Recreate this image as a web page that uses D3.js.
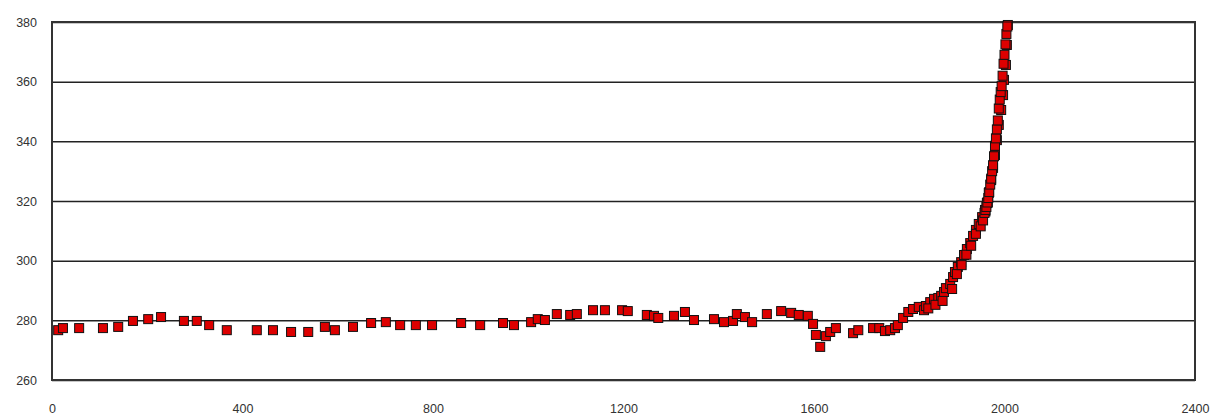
<!DOCTYPE html>
<html lang="en">
<head>
  <meta charset="UTF-8">
  <title>CO2 scatter</title>
  <script src="https://d3js.org/d3.v7.min.js"></script>
  <style>
    body {
      margin: 0;
      background: #fff;
    }
    .tick text {
      font-family: "Liberation Sans", Arial, sans-serif;
      font-size: 12.5px;
      fill: #333;
    }
    .grid line {
      stroke: #222;
      stroke-width: 1.5px;
    }
    .frame {
      fill: none;
      stroke: #333;
      stroke-width: 2px;
    }
    .pt {
      fill: #dd0000;
      stroke: #111;
      stroke-width: 1px;
    }
  </style>
</head>
<body>
  <div id="chart"></div>

  <script>
    // values (year, ppm)
    const years = [
      13, 23, 57, 107, 139, 170, 202, 229, 277, 304, 330, 367, 430, 464, 502, 538,
      573, 594, 632, 670, 701, 731, 764, 798, 859, 899, 947, 970, 1006, 1020, 1035,
      1060, 1088, 1102, 1136, 1161, 1197, 1209, 1249, 1264, 1273, 1306, 1329, 1348,
      1390, 1411, 1430, 1438, 1455, 1470, 1501, 1531, 1552, 1568, 1587, 1598, 1604,
      1613, 1625, 1634, 1646, 1682, 1693, 1724, 1737, 1749, 1760, 1770, 1776, 1787,
      1798, 1808, 1820, 1831, 1835, 1844, 1852, 1861, 1867, 1873, 1877, 1886, 1892,
      1896, 1902, 1909, 1915, 1921, 1928, 1934, 1940, 1946, 1953, 1959, 1963, 1967,
      1972, 1976, 1980, 1984, 1988, 1993, 1997, 1999, 2003, 2005, 2007,
      1840, 1855, 1870, 1890, 1900, 1910, 1920, 1930, 1940, 1950, 1955, 1960, 1965,
      1958, 1960, 1962, 1964, 1966, 1968, 1970, 1972, 1974, 1976, 1978, 1980, 1982,
      1984, 1986, 1988, 1990, 1992, 1994, 1996, 1998, 2000, 2002, 2004, 2006
    ];
    const ppm = [
      276.7, 277.4, 277.4, 277.4, 277.8, 279.8, 280.4, 281.1, 279.8, 279.8, 278.4,
      276.7, 276.7, 276.7, 276.1, 276.1, 277.8, 276.7, 277.8, 279.1, 279.4, 278.4,
      278.4, 278.4, 279.1, 278.4, 279.1, 278.4, 279.4, 280.4, 280.1, 282.1, 281.8,
      282.1, 283.4, 283.4, 283.4, 283.1, 281.8, 281.5, 280.8, 281.5, 282.8, 280.1,
      280.4, 279.4, 279.8, 282.1, 281.1, 279.4, 282.1, 283.1, 282.5, 281.8, 281.5,
      278.8, 275.1, 271.1, 274.7, 276.1, 277.4, 275.7, 276.7, 277.4, 277.4, 276.4,
      276.7, 277.4, 278.4, 280.8, 282.8, 283.8, 284.5, 283.4, 284.8, 286.1, 287.2,
      287.5, 288.2, 289.5, 290.8, 292.2, 294.5, 296.2, 297.9, 299.5, 301.9, 303.9,
      305.9, 308.3, 310.3, 312.3, 314.6, 317.0, 319.3, 322.7, 327.0, 331.1, 335.4,
      340.4, 345.5, 350.5, 355.5, 360.6, 365.6, 372.3, 379.0,
      284.0, 285.2, 286.5, 290.5, 295.5, 298.5, 302.0, 305.0, 309.0, 311.5, 313.5,
      316.5, 319.5,
      316.0, 317.0, 318.0, 319.5, 321.0, 323.0, 325.5, 327.5, 330.0, 332.0, 335.0,
      338.5, 341.0, 344.0, 347.0, 351.0, 354.0, 356.5, 358.5, 362.0, 366.0, 369.0,
      372.5, 376.0, 378.5
    ];
    const xTicks = [0, 400, 800, 1200, 1600, 2000, 2400];
    const yTicks = [260, 280, 300, 320, 340, 360, 380];

    const width = 1222, height = 420;
    const margin = {top: 22, right: 27, bottom: 40, left: 52};
    const iw = width - margin.left - margin.right;
    const ih = height - margin.top - margin.bottom;

    const svg = d3.select("#chart")
      .append("svg")
      .attr("width", width)
      .attr("height", height);

    const g = svg.append("g")
      .attr("transform", `translate(${margin.left},${margin.top})`);

    const x = d3.scaleLinear().domain([0, 2400]).range([0, iw]);
    const y = d3.scaleLinear().domain([260, 380]).range([ih, 0]);

    // horizontal grid
    g.append("g")
      .attr("class", "grid")
      .call(d3.axisLeft(y).tickValues(yTicks).tickSize(-iw).tickFormat(""))
      .call(s => s.select(".domain").remove());

    // y labels
    g.append("g")
      .call(d3.axisLeft(y).tickValues(yTicks).tickSize(0).tickPadding(15).tickFormat(d3.format("d")))
      .call(s => s.select(".domain").remove());

    // x labels
    g.append("g")
      .attr("transform", `translate(0,${ih})`)
      .call(d3.axisBottom(x).tickValues(xTicks).tickSize(0).tickPadding(24).tickFormat(d3.format("d")))
      .call(s => s.select(".domain").remove());

    g.append("rect")
      .attr("class", "frame")
      .attr("width", iw)
      .attr("height", ih);

    const pts = years.map((d, i) => ({yr: d, v: ppm[i]}));
    const s = 9;
    g.selectAll("rect.pt")
      .data(pts)
      .enter().append("rect")
      .attr("class", "pt")
      .attr("x", d => x(d.yr) - s / 2)
      .attr("y", d => y(d.v) - s / 2)
      .attr("width", s)
      .attr("height", s);
  </script>
</body>
</html>
